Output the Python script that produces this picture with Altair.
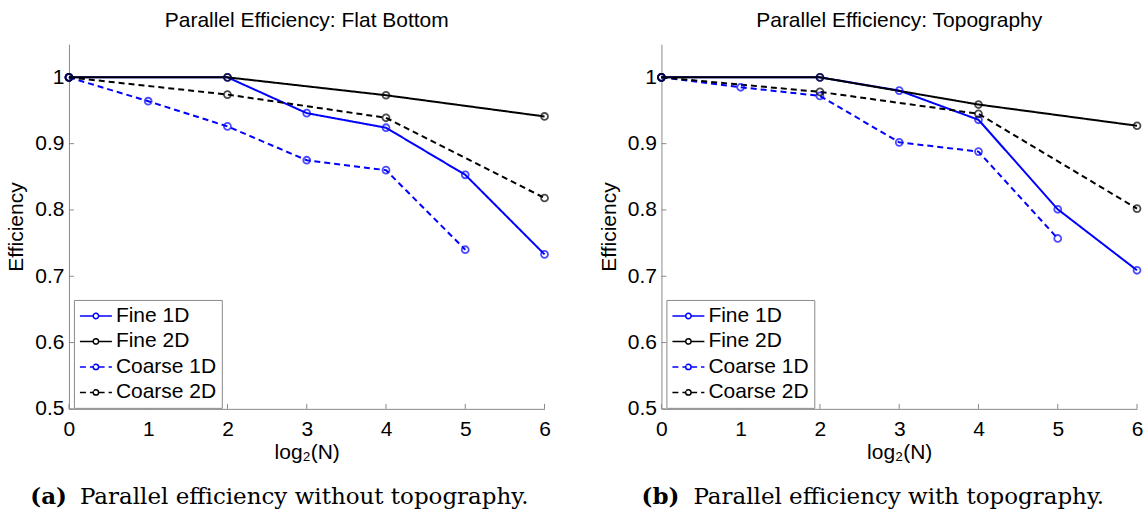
import altair as alt
import pandas as pd

SERIES = ["Fine 1D", "Fine 2D", "Coarse 1D", "Coarse 2D"]
COLORS = ["#0000ff", "#000000", "#0000ff", "#000000"]
DASHES = [[1, 0], [1, 0], [6, 4], [6, 4]]

# Panel (a): flat bottom
flat_fine1d_x = [0, 2, 3, 4, 5, 6]
flat_fine1d_y = [1.0, 1.0, 0.946, 0.924, 0.853, 0.733]
flat_fine2d_x = [0, 2, 4, 6]
flat_fine2d_y = [1.0, 1.0, 0.973, 0.941]
flat_coarse1d_x = [0, 1, 2, 3, 4, 5]
flat_coarse1d_y = [1.0, 0.964, 0.926, 0.875, 0.860, 0.740]
flat_coarse2d_x = [0, 2, 4, 6]
flat_coarse2d_y = [1.0, 0.974, 0.939, 0.818]

# Panel (b): topography
topo_fine1d_x = [0, 2, 3, 4, 5, 6]
topo_fine1d_y = [1.0, 1.0, 0.980, 0.936, 0.801, 0.709]
topo_fine2d_x = [0, 2, 4, 6]
topo_fine2d_y = [1.0, 1.0, 0.959, 0.927]
topo_coarse1d_x = [0, 1, 2, 3, 4, 5]
topo_coarse1d_y = [1.0, 0.985, 0.972, 0.902, 0.888, 0.757]
topo_coarse2d_x = [0, 2, 4, 6]
topo_coarse2d_y = [1.0, 0.978, 0.945, 0.802]

X_TICKS = [0, 1, 2, 3, 4, 5, 6]
Y_TICKS = [0.5, 0.6, 0.7, 0.8, 0.9, 1.0]
Y_DOMAIN = [0.5, 1.05]

TITLES = ["Parallel Efficiency: Flat Bottom", "Parallel Efficiency: Topography"]
CAP_TAGS = ["(a)", "(b)"]
CAP_TEXTS = ["Parallel efficiency without topography.", "Parallel efficiency with topography."]
CAP_X = [(-2, 11), (18, 32)]

W, H = 476, 365
FONT = "Liberation Sans"
SERIF = "DejaVu Serif"
GRAY = "#8a8a8a"
FS = 21

# legend glyph: small open circle (drawn twice so a dash pattern cannot break it)
# with a line segment on each side
LEG_PATH = ("M0.27,0A0.27,0.27,0,1,1,-0.27,0A0.27,0.27,0,1,1,0.27,0"
            "A0.27,0.27,0,1,1,-0.27,0A0.27,0.27,0,1,1,0.27,0"
            "M-1.6,0L-0.27,0M0.27,0L1.6,0")


def make_df(pairs):
    rows = []
    for name, (xs, ys) in zip(SERIES, pairs):
        for x, y in zip(xs, ys):
            rows.append({"series": name, "x": x, "y": y})
    return pd.DataFrame(rows)


def panel(df, title, tag, caption, capx):
    xs = alt.Scale(domain=[0, 6], nice=False)
    ys = alt.Scale(domain=Y_DOMAIN, nice=False, zero=False)
    legend = alt.Legend(
        title=None, orient="none", legendX=5, legendY=H - 109,
        symbolType=LEG_PATH, symbolSize=400, symbolStrokeWidth=1.5,
        symbolOffset=6, labelOffset=9,
        labelFont=FONT, labelFontSize=FS, labelColor="black", labelLimit=0,
        strokeColor=GRAY, fillColor="white", padding=5, rowPadding=4.5,
    )
    xaxis = alt.Axis(values=X_TICKS, format="d", title="log₂(N)", ticks=False, grid=False,
                     domainColor=GRAY, labelFont=FONT, labelFontSize=FS,
                     labelColor="black", labelPadding=10, labelFlush=False,
                     labelOverlap=False, titleFont=FONT, titleFontSize=FS,
                     titleFontWeight="normal", titleColor="black", titlePadding=2)
    yaxis = alt.Axis(values=Y_TICKS, format="~g", title="Efficiency", ticks=False,
                     grid=False, domainColor=GRAY, labelFont=FONT, labelFontSize=FS,
                     labelColor="black", labelPadding=5, labelFlush=False,
                     labelOverlap=False, titleFont=FONT, titleFontSize=FS,
                     titleFontWeight="normal", titleColor="black", titlePadding=8)
    base = alt.Chart(df)
    lines = base.mark_line(strokeWidth=2).encode(
        x=alt.X("x:Q", scale=xs, axis=xaxis),
        y=alt.Y("y:Q", scale=ys, axis=yaxis),
        color=alt.Color("series:N", scale=alt.Scale(domain=SERIES, range=COLORS), legend=legend),
        strokeDash=alt.StrokeDash("series:N", scale=alt.Scale(domain=SERIES, range=DASHES), legend=legend),
        detail="series:N",
    )
    points = base.mark_point(shape="circle", filled=False, size=48, strokeWidth=1.8).encode(
        x="x:Q", y="y:Q",
        stroke=alt.Stroke("series:N", scale=alt.Scale(domain=SERIES, range=COLORS), legend=None),
    )
    xt = alt.Chart(pd.DataFrame({"x": X_TICKS})).mark_rule(color=GRAY, strokeWidth=1).encode(
        x="x:Q", y=alt.value(H), y2=alt.value(H - 5))
    yt = alt.Chart(pd.DataFrame({"y": Y_TICKS})).mark_rule(color=GRAY, strokeWidth=1).encode(
        y="y:Q", x=alt.value(0), x2=alt.value(5))
    cap_tag = alt.Chart(pd.DataFrame({"t": [tag]})).mark_text(
        font=SERIF, fontSize=23, fontWeight="bold", align="right", baseline="middle", color="black"
    ).encode(text="t:N", x=alt.value(capx[0]), y=alt.value(H + 88))
    cap_txt = alt.Chart(pd.DataFrame({"t": [caption]})).mark_text(
        font=SERIF, fontSize=23, align="left", baseline="middle", color="black"
    ).encode(text="t:N", x=alt.value(capx[1]), y=alt.value(H + 88))
    return alt.layer(xt, yt, lines, points, cap_tag, cap_txt).properties(
        width=W, height=H,
        title=alt.Title(title, font=FONT, fontSize=FS, fontWeight="normal",
                        color="black", anchor="middle", offset=13),
    )


left_df = make_df([(flat_fine1d_x, flat_fine1d_y), (flat_fine2d_x, flat_fine2d_y),
                   (flat_coarse1d_x, flat_coarse1d_y), (flat_coarse2d_x, flat_coarse2d_y)])
right_df = make_df([(topo_fine1d_x, topo_fine1d_y), (topo_fine2d_x, topo_fine2d_y),
                    (topo_coarse1d_x, topo_coarse1d_y), (topo_coarse2d_x, topo_coarse2d_y)])

chart = alt.hconcat(
    panel(left_df, TITLES[0], CAP_TAGS[0], CAP_TEXTS[0], CAP_X[0]),
    panel(right_df, TITLES[1], CAP_TAGS[1], CAP_TEXTS[1], CAP_X[1]),
    spacing=45,
).resolve_scale(
    color="independent", strokeDash="independent", stroke="independent"
).resolve_legend(
    color="independent", strokeDash="independent", stroke="independent"
).properties(
    padding={"left": 5, "top": 10, "right": 0, "bottom": 0},
    background="white",
).configure_view(stroke=None)

chart.save("out.html", embed_options={"renderer": "svg", "actions": False})
